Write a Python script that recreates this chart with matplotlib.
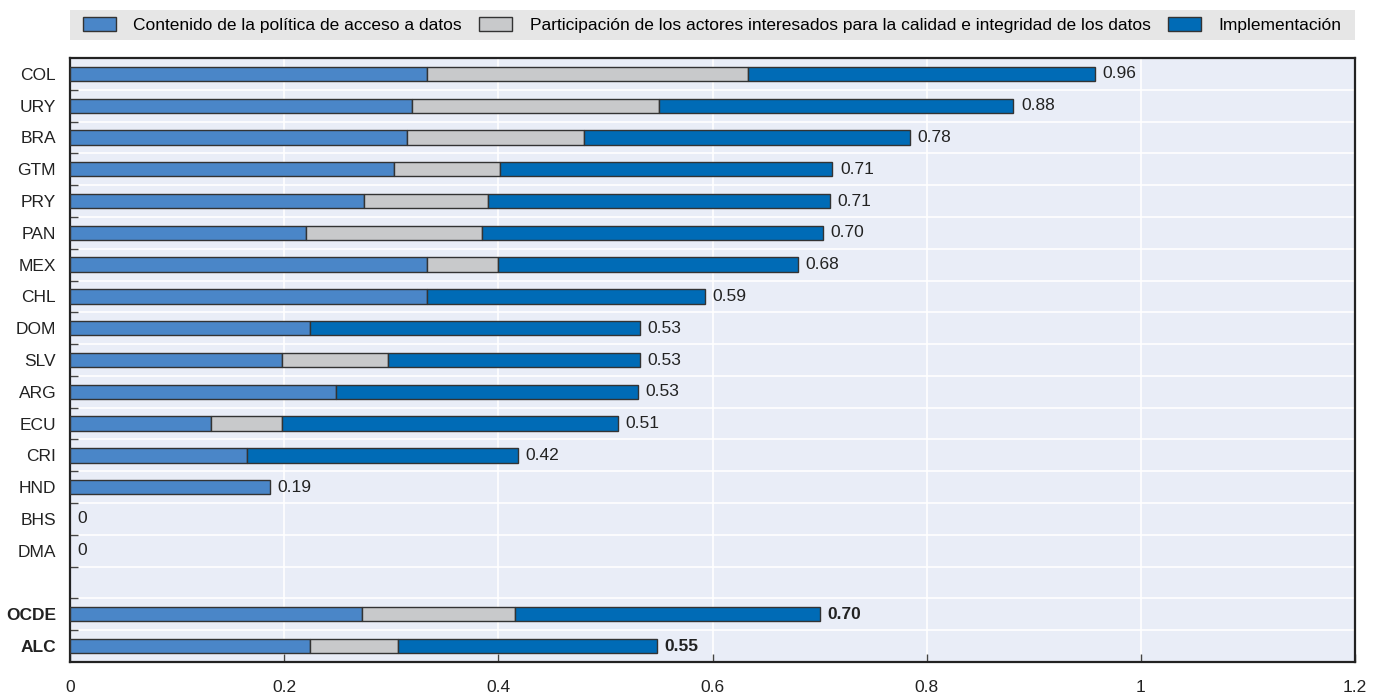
import numpy as np, matplotlib; matplotlib.use('Agg'); import matplotlib.pyplot as plt
from matplotlib.patches import Rectangle
plt.rcParams['font.family']=['Liberation Sans Narrow','Liberation Sans','DejaVu Sans']

paises=['COL','URY','BRA','GTM','PRY','PAN','MEX','CHL','DOM','SLV','ARG','ECU','CRI','HND','BHS','DMA','','OCDE','ALC']
contenido=[0.333,0.319,0.315,0.303,0.275,0.220,0.333,0.333,0.224,0.198,0.248,0.132,0.165,0.187,0,0,0,0.273,0.224]
participacion=[0.300,0.231,0.165,0.099,0.115,0.165,0.067,0,0,0.099,0,0.066,0,0,0,0,0,0.143,0.082]
implementacion=[0.324,0.331,0.304,0.310,0.320,0.318,0.280,0.260,0.308,0.235,0.282,0.314,0.253,0,0,0,0,0.284,0.242]
series=['Contenido de la política de acceso a datos',
        'Participación de los actores interesados para la calidad e integridad de los datos',
        'Implementación']
colores=['#4A86C8','#C8C9CB','#006BB6']
xticks=[0,0.2,0.4,0.6,0.8,1,1.2]
xticklabels=['0','0.2','0.4','0.6','0.8','1','1.2']
agregados=['OCDE','ALC']

fig=plt.figure(figsize=(13.83,6.95),dpi=100)
ax=fig.add_axes([70/1383,1-662/695,1285/1383,604/695])
ax.set_facecolor('#E9EDF7')
y=np.arange(len(paises)); h=0.45
vals=[np.array(contenido),np.array(participacion),np.array(implementacion)]
left=np.zeros(len(paises))
for v,c,lab in zip(vals,colores,series):
    m=np.array([p!='' and (v[i]>0) for i,p in enumerate(paises)])
    ax.barh(y[m],v[m],h,left=left[m],color=c,edgecolor='#333333',linewidth=1,label=lab,zorder=3)
    left+=v
# etiquetas con el total
for i,p in enumerate(paises):
    if p=='': continue
    tot=left[i]; txt=f'{tot:.2f}' if tot>0 else '0'
    ax.text(tot+0.007,i,txt,va='center',ha='left',fontsize=12.5,color='#222222',
            fontweight='bold' if p in agregados else 'normal')
ax.set_xlim(0,1.2); ax.set_ylim(len(paises)-0.5,-0.5)
ax.set_yticks(y); ax.set_yticklabels(paises,fontsize=12.5,color='#222222')
for t in ax.get_yticklabels():
    if t.get_text() in agregados: t.set_fontweight('bold')
ax.set_yticks(np.arange(0.5,len(paises)-0.5,1),minor=True)
ax.tick_params(axis='y',which='major',length=0,pad=10)
ax.tick_params(axis='y',which='minor',direction='in',length=6,width=1,color='#444444')
ax.set_xticks(xticks); ax.set_xticklabels(xticklabels,fontsize=12.5,color='#222222')
ax.tick_params(axis='x',direction='in',length=6,width=1,color='#444444',pad=13)
ax.grid(True,axis='x',which='major',color='white',lw=1.2,zorder=1)
ax.grid(True,axis='y',which='minor',color='white',lw=1.2,zorder=1)
ax.set_axisbelow(True)
for s in ax.spines.values(): s.set_color('#222222'); s.set_linewidth(1.6)
# fondo de la leyenda
fig.patches.append(Rectangle((70/1383,1-40/695),1285/1383,30/695,transform=fig.transFigure,facecolor='#E6E6E6',edgecolor='none',zorder=0))
leg=fig.legend(loc='center',bbox_to_anchor=(712/1383,1-25/695),ncol=3,frameon=False,fontsize=12.5,
               handlelength=1.9,handleheight=0.9,columnspacing=1.0,handletextpad=1.0,borderaxespad=0)
plt.savefig('out.png',dpi=100)
